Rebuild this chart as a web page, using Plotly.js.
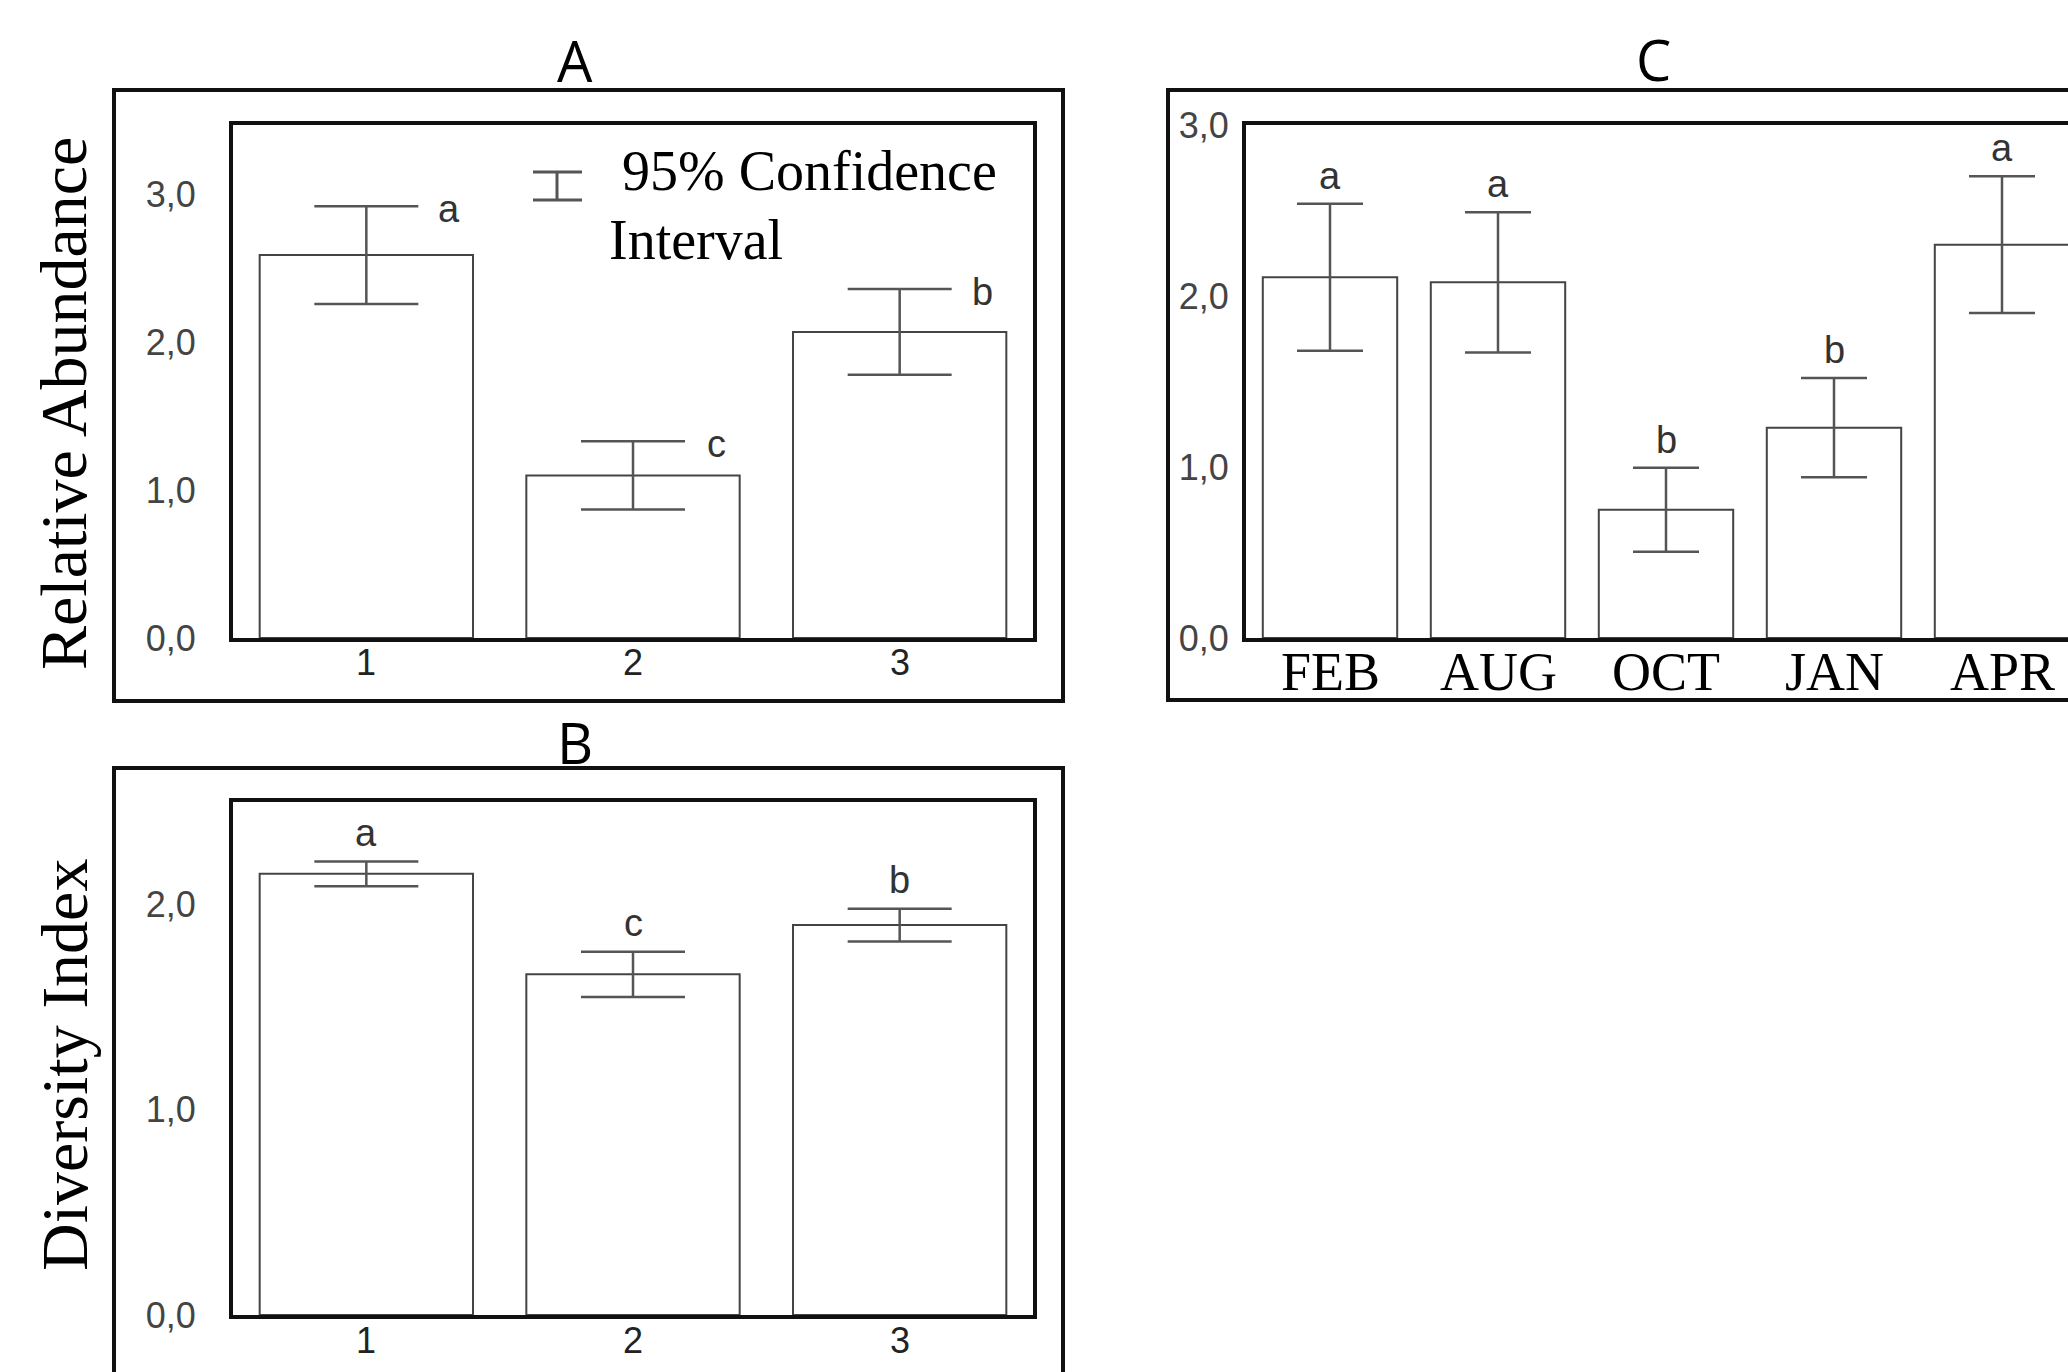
<!DOCTYPE html>
<html>
<head>
<meta charset="utf-8">
<script src="https://cdn.plot.ly/plotly-3.0.1.min.js"></script>
<style>
html,body{margin:0;padding:0;overflow:hidden;background:#fff;}
#chart{width:2200px;height:1500px;}
</style>
</head>
<body>
<div id="chart"></div>
<script>
// ---- data ----
const catsA = ['1', '2', '3'];
const valsA = [2.59, 1.10, 2.07];
const errA = [0.33, 0.23, 0.29];
const lettersA = ['a', 'c', 'b'];

const catsB = ['1', '2', '3'];
const valsB = [2.15, 1.66, 1.90];
const errB = [0.06, 0.11, 0.08];
const lettersB = ['a', 'c', 'b'];

const catsC = ['FEB', 'AUG', 'OCT', 'JAN', 'APR'];
const valsC = [2.11, 2.08, 0.75, 1.23, 2.30];
const errC = [0.43, 0.41, 0.245, 0.29, 0.40];
const lettersC = ['a', 'a', 'b', 'b', 'a'];

const panelTitles = ['A', 'B', 'C'];
const yTitleA = 'Relative Abundance';
const yTitleB = 'Diversity Index';
const legendLines = ['95% Confidence', 'Interval'];

// ---- layout helpers ----
const W = 2200, H = 1500;
const fx = p => p / W;
const fy = p => 1 - p / H;

const sans = 'Liberation Sans, Arial, sans-serif';
const serif = 'Liberation Serif, Times New Roman, serif';

function barTrace(x, y, err, xa, ya, capHalf) {
  return {
    type: 'bar', x: x, y: y, xaxis: xa, yaxis: ya,
    marker: {color: '#ffffff', line: {color: '#444', width: 2}},
    error_y: {type: 'data', array: err, visible: true, color: '#555', thickness: 2.5, width: capHalf},
    hoverinfo: 'none'
  };
}

const data = [
  barTrace(catsA, valsA, errA, 'x', 'y', 52),
  barTrace(catsB, valsB, errB, 'x2', 'y2', 52),
  barTrace(catsC, valsC, errC, 'x3', 'y3', 33)
];

function xAxis(domain, anchor, n) {
  return {
    domain: domain, anchor: anchor, type: 'category', range: [-0.5, n - 0.5],
    showline: true, mirror: true, linecolor: '#111', linewidth: 4,
    ticks: '', showticklabels: false, showgrid: false, zeroline: false, fixedrange: true
  };
}
function yAxis(domain, anchor, range, standoff) {
  return {
    domain: domain, anchor: anchor, range: range,
    tickvals: [0, 1, 2, 3], tickformat: '.1f',
    showline: true, mirror: true, linecolor: '#111', linewidth: 4,
    ticks: '', showgrid: false, zeroline: false, fixedrange: true,
    tickfont: {family: sans, size: 36, color: '#444'},
    ticklabelstandoff: standoff
  };
}

const annotations = [];
// panel titles
const titlePos = [[575, 60], [575, 742], [1653, 59]];
panelTitles.forEach((t, i) => {
  annotations.push({text: t, xref: 'paper', yref: 'paper', x: fx(titlePos[i][0]), y: fy(titlePos[i][1]),
    xanchor: 'center', yanchor: 'middle', showarrow: false,
    font: {family: 'Open Sans, sans-serif', size: 56, color: '#000'}});
});
// y titles
annotations.push({text: yTitleA, xref: 'paper', yref: 'paper', x: fx(64), y: fy(404), textangle: -90,
  xanchor: 'center', yanchor: 'middle', showarrow: false, font: {family: serif, size: 66, color: '#000'}});
annotations.push({text: yTitleB, xref: 'paper', yref: 'paper', x: fx(64), y: fy(1065), textangle: -90,
  xanchor: 'center', yanchor: 'middle', showarrow: false, font: {family: serif, size: 66, color: '#000'}});
// legend text
annotations.push({text: legendLines[0], xref: 'paper', yref: 'paper', x: fx(620), y: fy(171),
  xanchor: 'left', yanchor: 'middle', showarrow: false, font: {family: serif, size: 56, color: '#000'}});
annotations.push({text: legendLines[1], xref: 'paper', yref: 'paper', x: fx(607), y: fy(240),
  xanchor: 'left', yanchor: 'middle', showarrow: false, font: {family: serif, size: 56, color: '#000'}});

// x category labels (drawn at the category positions of each axis)
const numFont = {family: sans, size: 36, color: '#222'};
catsA.forEach((c, i) => annotations.push({text: c, xref: 'x', yref: 'paper', x: i, y: fy(663),
  xanchor: 'center', yanchor: 'middle', showarrow: false, font: numFont}));
catsB.forEach((c, i) => annotations.push({text: c, xref: 'x2', yref: 'paper', x: i, y: fy(1340),
  xanchor: 'center', yanchor: 'middle', showarrow: false, font: numFont}));
catsC.forEach((c, i) => annotations.push({text: c, xref: 'x3', yref: 'paper', x: i, y: fy(672),
  xanchor: 'center', yanchor: 'middle', showarrow: false, font: {family: serif, size: 54, color: '#000'}}));

// significance letters
const letterFont = {family: sans, size: 38, color: '#333'};
catsA.forEach((c, i) => annotations.push({text: lettersA[i], xref: 'x', yref: 'y', x: i, y: valsA[i] + errA[i],
  xanchor: 'center', yanchor: 'middle', xshift: 83, yshift: -3, showarrow: false, font: letterFont}));
catsB.forEach((c, i) => annotations.push({text: lettersB[i], xref: 'x2', yref: 'y2', x: i, y: valsB[i] + errB[i],
  xanchor: 'center', yanchor: 'bottom', yshift: 6, showarrow: false, font: letterFont}));
catsC.forEach((c, i) => annotations.push({text: lettersC[i], xref: 'x3', yref: 'y3', x: i, y: valsC[i] + errC[i],
  xanchor: 'center', yanchor: 'bottom', yshift: 5, showarrow: false, font: letterFont}));

const frame = (x0, y0, x1, y1) => ({type: 'rect', xref: 'paper', yref: 'paper',
  x0: fx(x0), x1: fx(x1), y0: fy(y1), y1: fy(y0), line: {color: '#111', width: 4}, fillcolor: 'rgba(0,0,0,0)'});
const seg = (x0, y0, x1, y1) => ({type: 'line', xref: 'paper', yref: 'paper',
  x0: fx(x0), x1: fx(x1), y0: fy(y0), y1: fy(y1), line: {color: '#555', width: 3}});

const shapes = [
  frame(114, 90, 1063, 701),
  frame(114, 768, 1063, 1420),
  frame(1168, 90, 2110, 700),
  // legend error-bar symbol
  seg(533, 172, 582, 172), seg(533, 200, 582, 200), seg(557, 172, 557, 200)
];

const layout = {
  width: W, height: H,
  margin: {l: 0, r: 0, t: 0, b: 0, pad: 0},
  paper_bgcolor: '#fff', plot_bgcolor: '#fff',
  showlegend: false, hovermode: false,
  bargap: 0.2,
  separators: ',.',
  xaxis: xAxis([fx(233), fx(1033)], 'y', catsA.length),
  yaxis: yAxis([fy(638), fy(125)], 'x', [0, 3.47], 26),
  xaxis2: xAxis([fx(233), fx(1033)], 'y2', catsB.length),
  yaxis2: yAxis([fy(1315), fy(802)], 'x2', [0, 2.5], 26),
  xaxis3: xAxis([fx(1246), fx(2086)], 'y3', catsC.length),
  yaxis3: yAxis([fy(638), fy(125)], 'x3', [0, 3.0], 6),
  annotations: annotations,
  shapes: shapes
};

Plotly.newPlot('chart', data, layout, {displayModeBar: false, staticPlot: true});
</script>
</body>
</html>
